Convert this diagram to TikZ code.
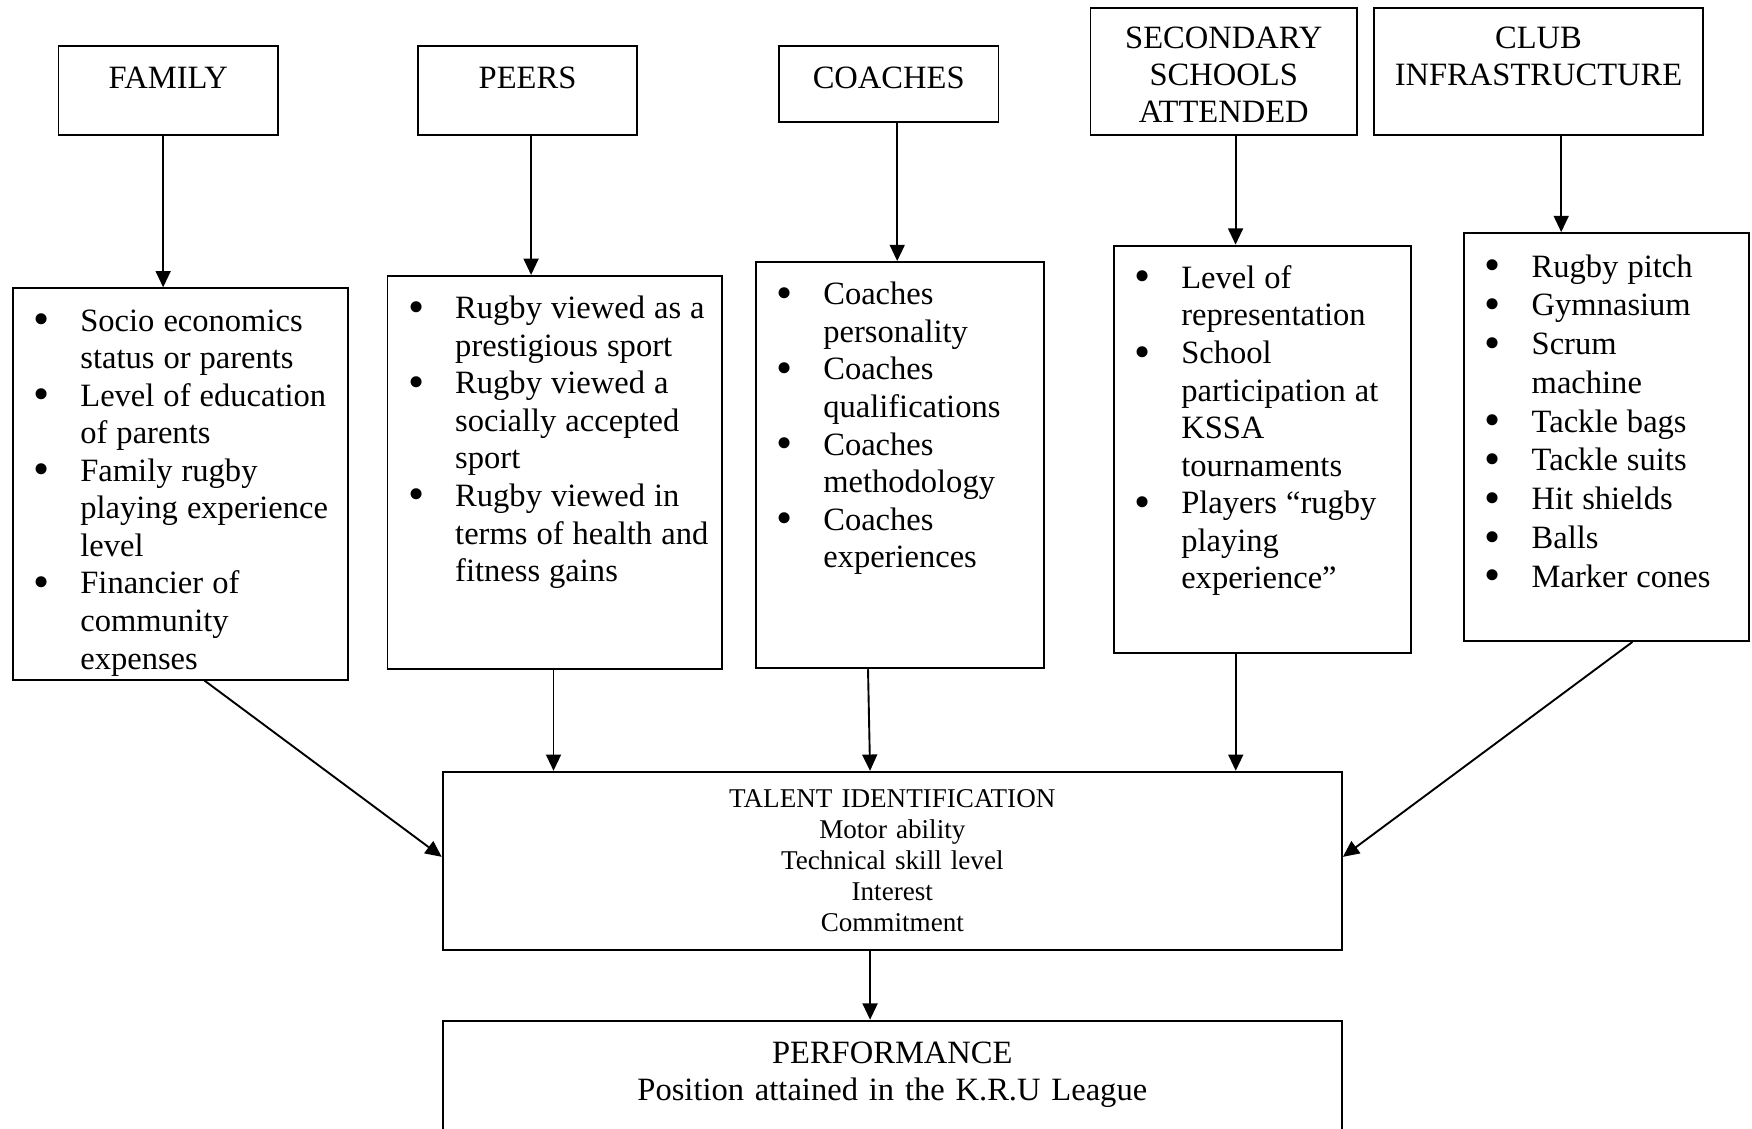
\documentclass[tikz,border=0pt]{standalone}
\usepackage{fontspec}
\setmainfont{Liberation Serif}
\usepackage{enumitem}
\usetikzlibrary{arrows.meta,fit}

% bullet list used inside the boxes
\newcommand{\blob}{\smash{\raisebox{-1.3pt}{\fontsize{17}{17}\selectfont\textbullet}}}
\newenvironment{factorlist}[1][13.85pt]
  {\fontsize{12}{#1}\selectfont\raggedright
   \begin{itemize}[label=\blob,leftmargin=17.3pt,labelwidth=6pt,labelsep=11.3pt,align=left,nosep]}
  {\end{itemize}}

\begin{document}
\begin{tikzpicture}[x=0.412pt,y=-0.412pt]
  \tikzstyle{box}=[draw,line width=0.7pt,inner sep=0pt]
  \tikzstyle{head}=[inner sep=0pt,anchor=base,text width=125pt,align=center,font=\fontsize{12}{13.6}\selectfont]
  \tikzstyle{items}=[inner sep=0pt,anchor=base west,text width=125pt]
  \tikzstyle{arr}=[line width=0.7pt,-{Triangle[length=6pt,width=5.5pt]}]
  \clip (0,0) rectangle (1568,1010);
  % top row
  \node[box,fit={(52.4,41.5)(248.7,120.8)}] (family) {};
  \node[box,fit={(374,41.5)(570.3,120.8)}] (peers) {};
  \node[box,fit={(697.2,41.5)(893.6,108.8)}] (coaches) {};
  \node[box,fit={(976,7.2)(1214.4,120.7)}] (schools) {};
  \node[box,fit={(1229.4,7.2)(1524.5,120.7)}] (club) {};
  \node[head] (familytxt) at ([yshift=-15.9pt]family.north) {FAMILY};
  \node[head] (peerstxt) at ([yshift=-15.9pt]peers.north) {PEERS};
  \node[head] (coachestxt) at ([yshift=-15.9pt]coaches.north) {COACHES};
  \node[head] (schoolstxt) at ([yshift=-15.2pt]schools.north) {SECONDARY\\SCHOOLS\\ATTENDED};
  \node[head] (clubtxt) at ([yshift=-15.2pt]club.north) {CLUB\\INFRASTRUCTURE};
  % list boxes
  \node[box,fit={(11.3,258)(311.4,608.2)}] (famlist) {};
  \node[box,fit={(346.8,246.9)(646.4,598.6)}] (peerlist) {};
  \node[box,fit={(676.2,234.5)(934.3,598.1)}] (coachlist) {};
  \node[box,fit={(996.6,219.8)(1262.9,584.2)}] (schoollist) {};
  \node[box,fit={(1310.2,208.6)(1565.1,573.7)}] (clublist) {};
  \node[items] (famitems) at ([shift={(19,5.5)}]famlist.north west) {\begin{factorlist}
    \item Socio economics\newline status or parents
    \item Level of education\newline of parents
    \item Family rugby\newline playing experience\newline level
    \item Financier of\newline community\newline expenses
  \end{factorlist}};
  \node[items] (peeritems) at ([shift={(19,5.5)}]peerlist.north west) {\begin{factorlist}
    \item Rugby viewed as a\newline prestigious sport
    \item Rugby viewed a\newline socially accepted\newline sport
    \item Rugby viewed in\newline terms of health and\newline fitness gains
  \end{factorlist}};
  \node[items] (coachitems) at ([shift={(19,5.5)}]coachlist.north west) {\begin{factorlist}
    \item Coaches\newline personality
    \item Coaches\newline qualifications
    \item Coaches\newline methodology
    \item Coaches\newline experiences
  \end{factorlist}};
  \node[items] (schoolitems) at ([shift={(19,5.5)}]schoollist.north west) {\begin{factorlist}
    \item Level of\newline representation
    \item School\newline participation at\newline KSSA\newline tournaments
    \item Players “rugby\newline playing\newline experience”
  \end{factorlist}};
  \node[items] (clubitems) at ([shift={(19,5.5)}]clublist.north west) {\begin{factorlist}[14.3pt]
    \item Rugby pitch
    \item Gymnasium
    \item Scrum\newline machine
    \item Tackle bags
    \item Tackle suits
    \item Hit shields
    \item Balls
    \item Marker cones
  \end{factorlist}};
  % bottom boxes
  \node[box,fit={(396.2,690.7)(1201,850.3)}] (talent) {};
  \node[box,fit={(396.2,913.5)(1201,1040)}] (perf) {};
  \node[head,font=\fontsize{10}{11.4}\selectfont] (talenttxt) at ([yshift=-13.7pt]talent.north)
    {TALENT IDENTIFICATION\\Motor ability\\Technical skill level\\Interest\\Commitment};
  \node[head,text width=200pt,font=\fontsize{12}{13.9}\selectfont] (perftxt) at ([yshift=-16pt]perf.north)
    {PERFORMANCE\\Position attained in the K.R.U League};
  % arrows
  \draw[arr] ([xshift=-1.87pt]family.south) -- ([xshift=-1.87pt]family.south |- famlist.north);
  \draw[arr] ([xshift=1.3pt]peers.south) -- ([xshift=1.3pt]peers.south |- peerlist.north);
  \draw[arr] ([xshift=3.13pt]coaches.south) -- ([xshift=3.13pt]coaches.south |- coachlist.north);
  \draw[arr] ([xshift=4.37pt]schools.south) -- ([xshift=4.37pt]schools.south |- schoollist.north);
  \draw[arr] ([xshift=8.36pt]club.south) -- ([xshift=8.36pt]club.south |- clublist.north);
  \draw[arr] ([xshift=8.9pt]famlist.south) -- ([yshift=1.5pt]talent.west);
  \draw[arr] ([xshift=-0.5pt]peerlist.south) -- ([xshift=-0.5pt]peerlist.south |- talent.north);
  \draw[arr] ([xshift=-11.7pt]coachlist.south) -- ([xshift=-8.2pt]talent.north);
  \draw[arr] ([xshift=-9.8pt]schoollist.south) -- ([xshift=-9.8pt]schoollist.south |- talent.north);
  \draw[arr] ([xshift=9.6pt]clublist.south) -- ([yshift=1.5pt]talent.east);
  \draw[arr] ([xshift=-8.2pt]talent.south) -- ([xshift=-8.2pt]talent.south |- perf.north);
\end{tikzpicture}
\end{document}
